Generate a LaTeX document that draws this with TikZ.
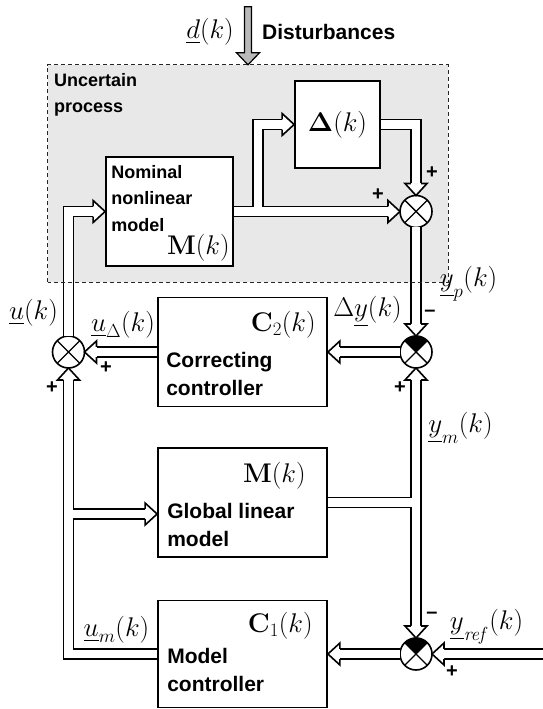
\RequirePackage{fix-cm}
\documentclass[tikz,border=0pt]{standalone}
\usepackage{amsmath}
\usepackage[no-math]{fontspec}
\setmainfont{Liberation Sans}
\usetikzlibrary{calc}

\begin{document}
\begin{tikzpicture}[x=1pt, y=1pt,
    blk/.style={draw, line width=1.8pt, fill=white, inner sep=0pt},
    sumj/.style={circle, draw, line width=1.6pt, fill=white, inner sep=0pt, outer sep=0pt, minimum size=32pt},
    bus/.style={double, double distance=8.5pt, line width=1.6pt},
    sig/.style={bus, shorten >=12pt},
    chan/.style={white, line width=8.5pt},
    hd/.pic={
        \fill[white] (0,0) -- (-12,11) -- (-12,-11) -- cycle;
        \draw[line width=1.6pt, line join=miter] (-12,5.05) -- (-12,11) -- (0,0) -- (-12,-11) -- (-12,-5.05);
    },
    txt/.style={font=\fontsize{21}{28}\selectfont\bfseries, align=left, inner sep=0pt},
    smalltxt/.style={font=\fontsize{18}{26.5}\selectfont\bfseries, align=left, inner sep=0pt},
    lbl/.style={font=\fontsize{27}{27}\selectfont, inner sep=0pt},
    sgn/.style={font=\fontsize{20}{20}\selectfont\bfseries, inner sep=0pt}]

    \useasboundingbox (0,0) rectangle (543,709);

    % Uncertain process region
    \node[fill=gray!18, minimum width=400pt, minimum height=217pt, inner sep=0pt] (proc) at (248,535.5) {};
    \node[smalltxt, anchor=north west] (proctxt) at (54,636) {Uncertain\\process};

    % Disturbance input
    \draw[fill=gray!55, line width=1.2pt]
        (proc.north) -- ++(-11.5,12) -- ++(8,0) -- ++(0,46) -- ++(7,0) -- ++(0,-46) -- ++(8,0) -- cycle;
    \node[lbl, anchor=east] (dlbl) at (234,677) {$\underline{d}(k)$};
    \node[txt, anchor=west] (dist) at (262,677) {Disturbances};

    % Blocks
    \node[blk, minimum width=85pt, minimum height=87pt] (delta) at (337.5,584.5) {};
    \node[blk, minimum width=127pt, minimum height=109pt] (nom) at (169.5,497.5) {};
    \node[blk, minimum width=169pt, minimum height=109pt] (ctwo) at (242.5,357) {};
    \node[blk, minimum width=169pt, minimum height=109pt] (glm) at (242.5,206.5) {};
    \node[blk, minimum width=169pt, minimum height=107pt] (cone) at (242.5,55) {};

    % Summing junctions
    \node[sumj] (sumA) at (416,497.5) {};
    \node[sumj] (sumB) at (416,357) {};
    \node[sumj] (sumU) at (68.5,357) {};
    \node[sumj] (sumC) at (416,55) {};

    % Process signals
    \coordinate (brA) at (258,497.5);
    \draw[sig] (nom.east) -- (sumA.west);
    \draw[sig] (brA) |- (delta.west);
    \draw[chan] ([xshift=-8pt]brA) -- ([xshift=8pt]brA);
    \draw[sig] (delta.east) -| (sumA.north);
    \draw[sig] (sumA.south) -- (sumB.north);

    % Correcting loop
    \draw[sig] (sumB.west) -- (ctwo.east);
    \draw[sig] (ctwo.west) -- (sumU.east);
    \draw[sig] (sumU.north) |- (nom.west);

    % Model loop
    \coordinate (brU) at (68.5,195);
    \draw[sig] (cone.west) -| (sumU.south);
    \draw[sig] (brU) -- (brU -| glm.west);
    \draw[chan] ([yshift=-8pt]brU) -- ([yshift=8pt]brU);
    \coordinate (brM) at (glm.east -| sumB.south);
    \draw[sig, shorten <=12pt] (sumC.north) -- (sumB.south);
    \draw[bus] (glm.east) -- (brM);
    \draw[chan] ([yshift=-8pt]brM) -- ([yshift=8pt]brM);
    \coordinate (yref) at (543,55);
    \draw[sig] (yref) -- (sumC.east);
    \draw[sig] (sumC.west) -- (cone.east);

    % Arrow heads
    \foreach \p/\a in {sumA.west/0, delta.west/0, sumA.north/-90, sumB.north/-90,
                       ctwo.east/180, sumU.east/180, nom.west/0, sumU.south/90,
                       sumB.south/90, sumC.north/-90, sumC.east/180, cone.east/180} {
        \pic[rotate=\a] at (\p) {hd};
    }
    \pic at (brU -| glm.west) {hd};

    % Crosses in the junctions
    \foreach \s in {sumA,sumB,sumU,sumC} {
        \draw[line width=1.4pt] (\s.45) -- (\s.225) (\s.135) -- (\s.315);
    }
    \foreach \s in {sumB,sumC} {
        \fill (\s.center) -- (\s.45) arc[start angle=45, end angle=135, radius=16pt] -- cycle;
    }

    % Block texts
    \node[lbl] (deltalbl) at (delta) {$\boldsymbol{\Delta}(k)$};
    \node[smalltxt, anchor=north west] (nomtxt) at ([shift={(6,-9)}]nom.north west) {Nominal\\nonlinear\\model};
    \node[lbl, anchor=south east] (nomlbl) at ([shift={(-4,5)}]nom.south east) {$\mathbf{M}(k)$};
    \node[txt, anchor=north west] (ctwotxt) at ([shift={(9,-55)}]ctwo.north west) {Correcting\\controller};
    \node[lbl, anchor=east] (ctwolbl) at ([shift={(-12,-28)}]ctwo.north east) {$\mathbf{C}_2(k)$};
    \node[txt, anchor=north west] (glmtxt) at ([shift={(10,-56)}]glm.north west) {Global linear\\model};
    \node[lbl, anchor=east] (glmlbl) at ([shift={(-22,-29)}]glm.north east) {$\mathbf{M}(k)$};
    \node[txt, anchor=north west] (conetxt) at ([shift={(10,-48)}]cone.north west) {Model\\controller};
    \node[lbl, anchor=east] (conelbl) at ([shift={(-15,-26)}]cone.north east) {$\mathbf{C}_1(k)$};

    % Signal labels
    \node[lbl] (udlbl) at (123,384) {$\underline{u}_\Delta(k)$};
    \node[lbl] (dylbl) at (367.5,397) {$\Delta\underline{y}(k)$};
    \node[lbl] (yplbl) at (468.5,425) {$\underline{y}_p(k)$};
    \node[lbl] (ulbl) at (33.5,396) {$\underline{u}(k)$};
    \node[lbl] (ymlbl) at (460.5,281) {$\underline{y}_m(k)$};
    \node[lbl] (umlbl) at (116.5,79) {$\underline{u}_m(k)$};
    \node[lbl] (yreflbl) at (486.5,82) {$\underline{y}_{\mathit{ref}}(k)$};

    % Signs
    \foreach \x/\y in {432/536, 378/514, 400/321, 106/341, 52/321, 452/37} {
        \node[sgn] at (\x,\y) {+};
    }
    \foreach \x/\y in {430/396, 432/94} {
        \node[sgn] at (\x,\y) {--};
    }

    % Border of the process region
    \draw[dash pattern=on 4pt off 3pt, line width=1pt, gray!30!black] (proc.south west) rectangle (proc.north east);

\end{tikzpicture}
\end{document}
